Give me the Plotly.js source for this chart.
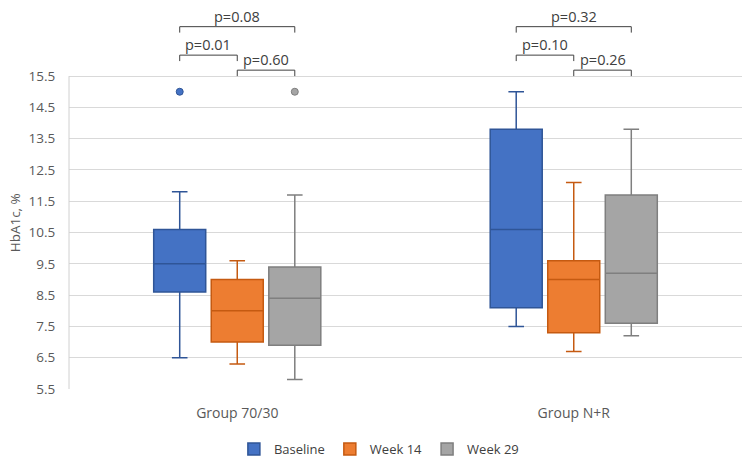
<!DOCTYPE html>
<html><head><meta charset="utf-8">
<script src="https://cdn.plot.ly/plotly-3.0.1.min.js"></script>
<style>html,body{margin:0;padding:0;background:#fff}#chart{width:755px;height:466px}</style>
</head><body><div id="chart"></div>
<script>
const groups = ['Group 70/30', 'Group N+R'];
const seriesNames = ['Baseline', 'Week 14', 'Week 29'];
const fills = ['#4472C4', '#ED7D31', '#A5A5A5'];
const lines = ['#2F5597', '#C55A11', '#7F7F7F'];
// per series: [group 70/30, group N+R]
const lowerFence = [[6.5, 7.5], [6.3, 6.7], [5.8, 7.2]];
const q1Vals = [[8.6, 8.1], [7.0, 7.3], [6.9, 7.6]];
const medianVals = [[9.5, 10.6], [8.0, 9.0], [8.4, 9.2]];
const q3Vals = [[10.6, 13.8], [9.0, 9.6], [9.4, 11.7]];
const upperFence = [[11.8, 15.0], [9.6, 12.1], [11.7, 13.8]];
// outliers: [series index, group index, value]
const outliers = [[0, 0, 15.0], [2, 0, 15.0]];
const yTicks = [5.5, 6.5, 7.5, 8.5, 9.5, 10.5, 11.5, 12.5, 13.5, 14.5, 15.5];
// p-value brackets: [group, series from, series to, level(bar y), label]
const brackets = [
  [0, 0, 2, 17.08, 'p=0.08'],
  [0, 0, 1, 16.17, 'p=0.01'],
  [0, 1, 2, 15.69, 'p=0.60'],
  [1, 0, 2, 17.08, 'p=0.32'],
  [1, 0, 1, 16.17, 'p=0.10'],
  [1, 1, 2, 15.69, 'p=0.26']
];
const tickDrop = 0.19;

const boxgap = 0.487, boxgroupgap = 0.096;
const slot = (1 - boxgap) / seriesNames.length;
const offsetOf = s => (s - (seriesNames.length - 1) / 2) * slot;
const xPos = groups.map((g, i) => i);

const traces = seriesNames.map((name, s) => ({
  type: 'box', name: name, x: xPos,
  q1: q1Vals[s], median: medianVals[s], q3: q3Vals[s],
  lowerfence: lowerFence[s], upperfence: upperFence[s],
  fillcolor: fills[s], line: {color: lines[s], width: 1.5},
  whiskerwidth: 0.3, boxpoints: false, hoverinfo: 'skip'
}));
outliers.forEach(o => {
  traces.push({
    type: 'scatter', mode: 'markers', showlegend: false, hoverinfo: 'skip',
    x: [xPos[o[1]] + offsetOf(o[0])], y: [o[2]],
    marker: {color: fills[o[0]], size: 7, line: {color: lines[o[0]], width: 1}}
  });
});

const shapes = [{
  type: 'line', xref: 'paper', yref: 'y', x0: 0, x1: 0,
  y0: yTicks[0], y1: yTicks[yTicks.length - 1],
  line: {color: '#d0d0d0', width: 1}
}];
const annotations = [{
  xref: 'paper', yref: 'y', x: -0.08, y: 10.8, text: 'HbA1c, %',
  textangle: -90, showarrow: false, xanchor: 'center', yanchor: 'middle',
  font: {size: 13.5, color: '#595959'}
}];
brackets.forEach(b => {
  const xa = xPos[b[0]] + offsetOf(b[1]);
  const xb = xPos[b[0]] + offsetOf(b[2]);
  shapes.push({
    type: 'path', xref: 'x', yref: 'y',
    path: `M${xa},${b[3] - tickDrop} L${xa},${b[3]} L${xb},${b[3]} L${xb},${b[3] - tickDrop}`,
    line: {color: '#404040', width: 1}
  });
  annotations.push({
    xref: 'x', yref: 'y', x: (xa + xb) / 2, y: b[3], text: b[4],
    showarrow: false, xanchor: 'center', yanchor: 'bottom', borderpad: 0,
    font: {size: 14.5, color: '#404040'}
  });
});

const layout = {
  width: 755, height: 466,
  margin: {l: 69, r: 13, t: 1, b: 77},
  paper_bgcolor: '#fff', plot_bgcolor: '#fff',
  font: {family: 'Open Sans, Noto Sans, sans-serif', color: '#595959', size: 13},
  boxmode: 'group', boxgap: boxgap, boxgroupgap: boxgroupgap,
  xaxis: {
    range: [-0.5, 1.5], tickvals: xPos, ticktext: groups,
    showgrid: false, zeroline: false, showline: false,
    ticks: 'outside', ticklen: 11, tickcolor: 'rgba(0,0,0,0)',
    tickfont: {size: 14, color: '#595959'}
  },
  yaxis: {
    range: [5.5, 17.9], tickvals: yTicks, ticktext: yTicks.map(v => v.toFixed(1)),
    showgrid: true, gridcolor: '#d9d9d9', gridwidth: 1, zeroline: false, showline: false,
    ticks: 'outside', ticklen: 10, tickcolor: 'rgba(0,0,0,0)',
    tickfont: {size: 13.5, color: '#595959'}
  },
  legend: {
    orientation: 'h', x: 0.245, xanchor: 'left', y: -0.155, yanchor: 'middle',
    font: {size: 13, color: '#404040'}, traceorder: 'normal'
  },
  shapes: shapes, annotations: annotations
};
Plotly.newPlot('chart', traces, layout, {displayModeBar: false, staticPlot: true});
</script>
</body></html>
